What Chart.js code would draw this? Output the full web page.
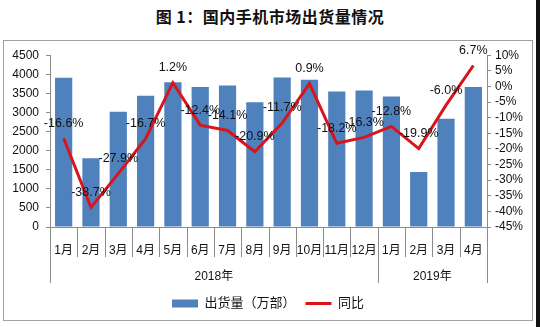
<!DOCTYPE html>
<html>
<head>
<meta charset="utf-8">
<script src="https://cdn.jsdelivr.net/npm/chart.js@4/dist/chart.umd.min.js"></script>
<style>
  html, body { margin: 0; padding: 0; background: #fff; }
  body { width: 540px; height: 327px; position: relative; overflow: hidden; }
  #title {
    position: absolute; left: 0; top: 4px; width: 540px; text-align: center;
    font: bold 16px "Noto Sans CJK SC", sans-serif; color: #111; letter-spacing: 0.5px;
  }
  #box {
    position: absolute; left: 3px; top: 40px; width: 530px; height: 281px;
    box-sizing: border-box; border: 1px solid #a0a0a0;
  }
  #edge { position: absolute; left: 536px; top: 0; width: 4px; height: 327px; background: #111; }
</style>
</head>
<body>
<div id="title">图 1：国内手机市场出货量情况</div>
<div id="box"><canvas id="chart"></canvas></div>
<div id="edge"></div>
<script>
// months, split into two year groups
const months = ['1月','2月','3月','4月','5月','6月','7月','8月','9月','10月','11月','12月','1月','2月','3月','4月'];
const years = [
  { label: '2018年', from: 0, to: 11 },
  { label: '2019年', from: 12, to: 15 }
];
// shipments, 10k units
const shipments = [3910, 1800, 3020, 3435, 3790, 3670, 3705, 3270, 3915, 3855, 3550, 3575, 3415, 1440, 2835, 3665];
// year-on-year change, %
const yoy = [-16.6, -38.7, -27.9, -16.7, 1.2, -12.4, -14.1, -20.9, -11.7, 0.9, -18.2, -16.3, -12.8, -19.9, -6.0, 6.7];

const FONT = '"Liberation Sans", Arial, "Noto Sans CJK SC", sans-serif';
const axisColor = '#8c8c8c';

// two-level category axis: separators under the months plus year labels
const groupAxis = {
  id: 'groupAxis',
  afterDraw(chart) {
    const x = chart.scales.x;
    const ctx = chart.ctx;
    const step = x.width / months.length;
    const edge = i => x.getPixelForValue(i) - step / 2;
    const top = x.top;
    ctx.save();
    ctx.strokeStyle = axisColor;
    ctx.lineWidth = 1;
    const longAt = new Set([0, 12, 16]);
    for (let i = 0; i <= months.length; i++) {
      const px = Math.round(edge(i)) + 0.5;
      ctx.beginPath();
      ctx.moveTo(px, top);
      ctx.lineTo(px, longAt.has(i) ? top + 56 : top + 30);
      ctx.stroke();
    }
    ctx.fillStyle = '#111';
    ctx.font = '12px ' + FONT;
    ctx.textAlign = 'center';
    ctx.textBaseline = 'middle';
    years.forEach(y => {
      const cx = (edge(y.from) + edge(y.to + 1)) / 2;
      ctx.fillText(y.label, cx, top + 50);
    });
    ctx.restore();
  }
};

// percentage labels above the line points
const yoyLabels = {
  id: 'yoyLabels',
  afterDatasetsDraw(chart) {
    const meta = chart.getDatasetMeta(1);
    const ctx = chart.ctx;
    ctx.save();
    ctx.fillStyle = '#111';
    ctx.font = '12.5px ' + FONT;
    ctx.textAlign = 'center';
    ctx.textBaseline = 'middle';
    meta.data.forEach((pt, i) => {
      ctx.fillText(yoy[i].toFixed(1) + '%', pt.x, pt.y - 15);
    });
    ctx.restore();
  }
};

const ctx = document.getElementById('chart').getContext('2d');
const chart = new Chart(ctx, {
  type: 'bar',
  data: {
    labels: months,
    datasets: [
      {
        type: 'bar',
        label: '出货量（万部）',
        data: shipments,
        backgroundColor: '#4f81bd',
        borderWidth: 0,
        categoryPercentage: 1,
        barPercentage: 0.63,
        yAxisID: 'y',
        pointStyle: 'rect',
        order: 2
      },
      {
        type: 'line',
        label: '同比',
        data: yoy,
        borderColor: '#d9141c',
        backgroundColor: '#d9141c',
        borderWidth: 3,
        pointRadius: 0,
        tension: 0,
        yAxisID: 'y1',
        pointStyle: 'line',
        order: 1
      }
    ]
  },
  options: {
    responsive: true,
    maintainAspectRatio: false,
    animation: false,
    layout: { padding: { top: 14, bottom: 0, left: 0, right: 0 } },
    plugins: {
      tooltip: { enabled: false },
      legend: {
        position: 'bottom',
        labels: {
          usePointStyle: true,
          pointStyleWidth: 26,
          boxHeight: 8,
          padding: 10,
          color: '#111',
          font: { family: FONT, size: 13 },
          sort: (a, b) => a.datasetIndex - b.datasetIndex
        }
      }
    },
    scales: {
      x: {
        offset: true,
        grid: { display: false },
        border: { display: true, color: axisColor },
        ticks: {
          color: '#111',
          font: { family: FONT, size: 12 },
          padding: 8,
          maxRotation: 0,
          autoSkip: false
        },
        afterFit(scale) { scale.height = 60; }
      },
      y: {
        position: 'left',
        min: 0,
        max: 4500,
        grid: { drawOnChartArea: false, drawTicks: true, tickLength: 4, color: axisColor },
        border: { display: true, color: axisColor },
        ticks: {
          stepSize: 500,
          autoSkip: false,
          color: '#111',
          padding: 7,
          font: { family: FONT, size: 12 },
          callback: v => String(v)
        },
        afterFit(scale) { scale.width = 46; }
      },
      y1: {
        position: 'right',
        min: -45,
        max: 10,
        grid: { drawOnChartArea: false, drawTicks: true, tickLength: 4, color: axisColor },
        border: { display: true, color: axisColor },
        ticks: {
          stepSize: 5,
          autoSkip: false,
          color: '#111',
          padding: 4,
          font: { family: FONT, size: 12 },
          callback: v => v + '%'
        },
        afterFit(scale) { scale.width = 45; }
      }
    }
  },
  plugins: [groupAxis, yoyLabels]
});
</script>
</body>
</html>
